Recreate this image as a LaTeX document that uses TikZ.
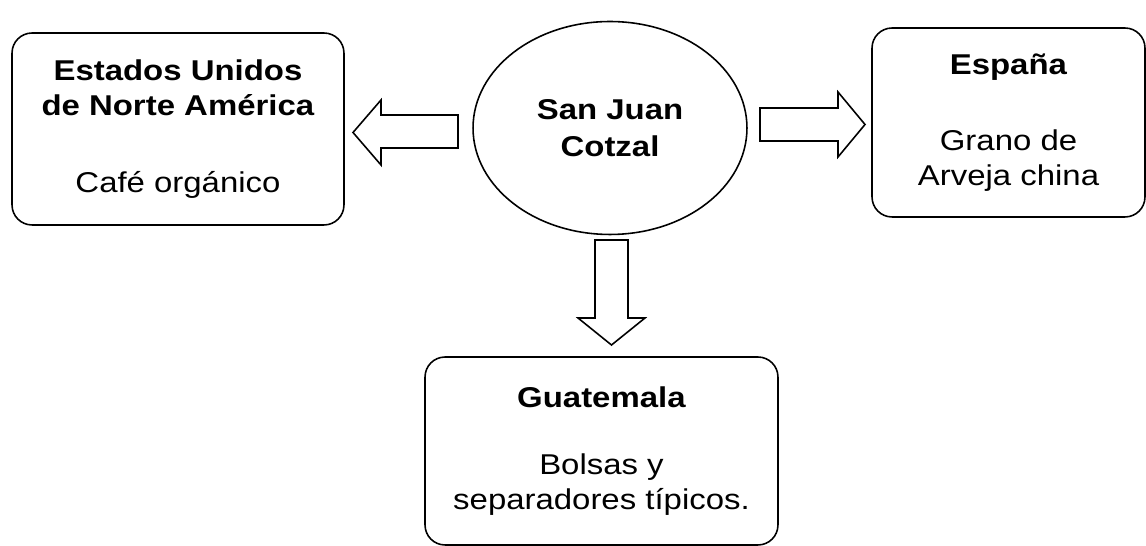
\documentclass[tikz,border=0pt]{standalone}
\usepackage{fontspec}
\setmainfont[FakeStretch=1.15]{Liberation Sans}
\usetikzlibrary{shapes.geometric}
\tikzset{caja/.style={draw, rounded corners=0.4cm, line width=0.9pt, align=center, inner sep=0pt,
  font=\fontsize{16.3}{19.9}\selectfont}}
\tikzset{flecha/.style={draw, line width=0.9pt, line join=miter}}

\begin{document}
\begin{tikzpicture}[x=0.02cm, y=-0.02cm]
      \useasboundingbox (0, 0) rectangle (1146, 546);

      \node [caja, minimum width=6.64cm, minimum height=3.84cm] (eeuu) at (178, 129)
        {\textbf{Estados Unidos}\\\textbf{de Norte América}\\[0.84cm]Café orgánico};
      \node [caja, minimum width=5.46cm, minimum height=3.78cm] (espana) at (1008.5, 122.5)
        {\textbf{España}\\[0.82cm]Grano de\\Arveja china};
      \node [caja, minimum width=7.06cm, minimum height=3.76cm] (guate) at (601.5, 451)
        {\textbf{Guatemala}\\[0.64cm]Bolsas y\\separadores típicos.};

      \node [caja, ellipse, rounded corners=0pt, minimum width=5.48cm, minimum height=4.26cm] (cotzal) at (610, 128)
        {\textbf{San Juan}\\[0.04cm]\textbf{Cotzal}};

      \draw [flecha] (458, 115) -- (381, 115) -- (381, 100) -- (353, 132.5) -- (381, 165) -- (381, 148) -- (458, 148) -- cycle;
      \draw [flecha] (760, 108) -- (838, 108) -- (838, 92) -- (865, 124.5) -- (838, 157) -- (838, 141) -- (760, 141) -- cycle;
      \draw [flecha] (595, 240) -- (628, 240) -- (628, 318) -- (645, 318) -- (611.5, 345) -- (578, 318) -- (595, 318) -- cycle;
\end{tikzpicture}
\end{document}
